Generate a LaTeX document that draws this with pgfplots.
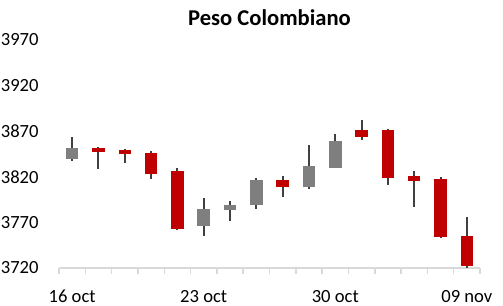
\documentclass[border=0pt]{standalone}
\usepackage{pgfplots}
\pgfplotsset{compat=1.18}
\usepackage{pgfplotstable}
\usepackage{fontspec}
\setmainfont{Carlito}
\definecolor{upgray}{HTML}{7F7F7F}
\definecolor{downred}{HTML}{C00000}
\definecolor{wick}{HTML}{404040}
\definecolor{axgray}{HTML}{D9D9D9}

\pgfplotstableread{
x open high low close
0 3839 3864 3837.5 3852
1 3851.5 3853 3829 3847.5
2 3849.5 3850.5 3835.5 3844.5
3 3846 3848.5 3818 3823.5
4 3826.5 3830 3762 3762.5
5 3766.5 3797 3755.5 3784.5
6 3784 3793.5 3771 3789
7 3789.5 3819 3785 3816.5
8 3816.5 3821 3798 3809
9 3809 3855 3807 3832
10 3830 3867 3830 3859.5
11 3871.5 3882.5 3860.5 3864
12 3871.5 3872.5 3811.5 3819
13 3821 3826.5 3787 3815.5
14 3817.5 3820 3753 3753.5
15 3755 3776 3720.5 3722.5
}\ohlc

\pgfplotstableread{
x lo hi
0 3839 3852
5 3766.5 3784.5
6 3784 3789
7 3789.5 3816.5
9 3809 3832
10 3830 3859.5
}\upc

\pgfplotstableread{
x lo hi
1 3847.5 3851.5
2 3844.5 3849.5
3 3823.5 3846
4 3762.5 3826.5
8 3809 3816.5
11 3864 3871.5
12 3819 3871.5
13 3815.5 3821
14 3753.5 3817.5
15 3722.5 3755
}\downc

\begin{document}
\begin{tikzpicture}
\path[use as bounding box] (0,0) rectangle (503bp,306bp);
\begin{axis}[
  at={(59bp,38bp)}, anchor=south west,
  scale only axis, width=421bp, height=228bp,
  xmin=-0.5, xmax=15.5, ymin=3720, ymax=3970,
  axis x line*=bottom, axis y line*=left,
  x axis line style={draw=axgray, line width=1.5bp},
  y axis line style={draw=none},
  xtick={0,5,10,15},
  xticklabels={16 oct,23 oct,30 oct,09 nov},
  minor xtick={-0.5,0.5,...,15.5},
  major x tick style={draw=none},
  minor x tick style={draw=axgray, line width=1.5bp},
  minor tick length=6bp,
  tick align=outside,
  xtick pos=bottom,
  ytick={3720,3770,...,3970},
  ytick style={draw=none},
  /pgf/number format/assume math mode=true,
  /pgf/number format/set thousands separator={},
  tick label style={font=\fontsize{18.6bp}{22bp}\selectfont, text=black},
  yticklabel style={inner sep=0pt, anchor=east, xshift=-16bp},
  xticklabel style={inner sep=0pt, anchor=base, yshift=-30bp},
  title={Peso Colombiano},
  title style={font=\fontsize{22.6bp}{26bp}\selectfont\bfseries, at={(0.5,1)}, anchor=base, yshift=9bp, inner sep=0pt},
  clip=false,
]
\addplot[draw=none, mark=none, forget plot,
  error bars/.cd, y dir=plus, y explicit, error mark=none,
  error bar style={draw=wick, line width=2bp}]
  table[x=x, y=low, y error expr=\thisrow{high}-\thisrow{low}] {\ohlc};
\addplot[draw=none, mark=none, forget plot,
  error bars/.cd, y dir=plus, y explicit, error mark=none,
  error bar style={draw=upgray, line width=12.5bp}]
  table[x=x, y=lo, y error expr=\thisrow{hi}-\thisrow{lo}] {\upc};
\addplot[draw=none, mark=none, forget plot,
  error bars/.cd, y dir=plus, y explicit, error mark=none,
  error bar style={draw=downred, line width=12.5bp}]
  table[x=x, y=lo, y error expr=\thisrow{hi}-\thisrow{lo}] {\downc};
\end{axis}
\end{tikzpicture}
\end{document}
